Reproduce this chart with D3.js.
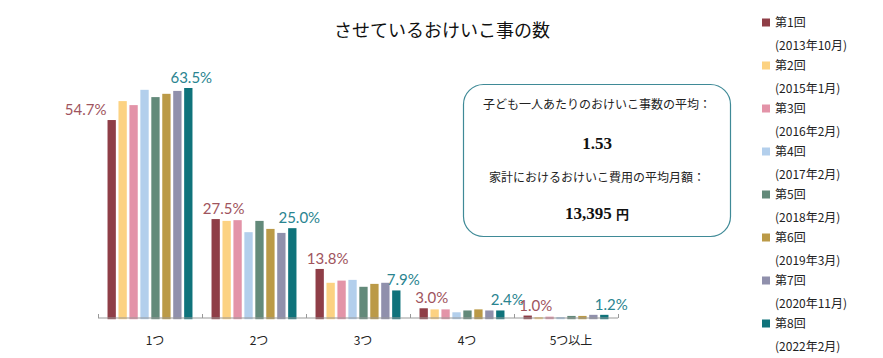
<!DOCTYPE html>
<html><head><meta charset="utf-8">
<script src="https://cdn.jsdelivr.net/npm/d3@7/dist/d3.min.js"></script>
<style>body{margin:0;background:#fff}svg{display:block}</style>
</head><body>
<svg id="c" width="883" height="358"></svg>
<script>
const categories = ["1つ","2つ","3つ","4つ","5つ以上"];
const seriesNames = ["第1回","第2回","第3回","第4回","第5回","第6回","第7回","第8回"];
const seriesDates = ["(2013年10月)","(2015年1月)","(2016年2月)","(2017年2月)","(2018年2月)","(2019年3月)","(2020年11月)","(2022年2月)"];
const colors = ["#8f3e47","#fcd282","#e393a8","#b3cfec","#638a7a","#bb9a47","#9090ac","#0f737b"];
const s1 = [54.7, 27.5, 13.8, 3.0, 1.0];
const s2 = [59.9, 27.0, 10.0, 2.7, 0.6];
const s3 = [58.8, 27.2, 10.6, 2.7, 0.7];
const s4 = [63.0, 23.9, 10.8, 1.9, 0.6];
const s5 = [61.0, 27.0, 8.9, 2.4, 0.9];
const s6 = [61.9, 24.8, 9.7, 2.7, 0.9];
const s7 = [62.7, 23.7, 10.0, 2.4, 1.2];
const s8 = [63.5, 25.0, 7.9, 2.4, 1.2];
const series = [s1,s2,s3,s4,s5,s6,s7,s8];
const title = "させているおけいこ事の数";
const boxLines = ["子ども一人あたりのおけいこ事数の平均：","1.53","家計におけるおけいこ費用の平均月額：","13,395"];
const boxUnit = "円";

const svg = d3.select("#c");
const jp = "'Noto Sans CJK JP', sans-serif";

const x0 = d3.scaleBand().domain(categories).range([98, 618]).padding(0);
const x1 = d3.scaleBand().domain(d3.range(8)).range([0, x0.bandwidth()]).paddingInner(0.24).paddingOuter(0.87);
const y = d3.scaleLinear().domain([0, 63.5]).range([319.2, 88]);

// title
svg.append("text").attr("x", 442).attr("y", 37).attr("text-anchor", "middle")
  .style("font-family", jp).style("font-size", "18px").style("fill", "#111").text(title);

// bars
categories.forEach((c, ci) => {
  const g = svg.append("g").attr("transform", `translate(${x0(c)},0)`);
  series.forEach((s, si) => {
    g.append("rect").attr("x", x1(si)).attr("width", x1.bandwidth())
      .attr("y", y(s[ci])).attr("height", y(0) - y(s[ci])).attr("fill", colors[si]);
  });
});

// axis
const axisY = 318;
svg.append("line").attr("x1", x0.range()[0]).attr("x2", x0.range()[1]).attr("y1", axisY).attr("y2", axisY)
  .attr("stroke", "#999").attr("stroke-width", 1);
const ticks = categories.map(c => x0(c)).concat([x0.range()[1]]);
svg.selectAll(".tk").data(ticks).enter().append("line")
  .attr("x1", d => d + 0.5).attr("x2", d => d + 0.5).attr("y1", axisY - 4).attr("y2", axisY)
  .attr("stroke", "#999");
svg.selectAll(".cl").data(categories).enter().append("text")
  .attr("x", d => x0(d) + x0.bandwidth() / 2 + 5).attr("y", 345).attr("text-anchor", "middle")
  .style("font-family", jp).style("font-size", "12px").style("fill", "#222").text(d => d);

// value labels (first and last series)
const lblFont = "Lato, 'Open Sans', sans-serif";
categories.forEach((c, ci) => {
  const bx = x0(c) + x1(0);
  const top = y(s1[ci]);
  const blocked = y(s2[ci]) < top - 5;
  svg.append("text")
    .attr("x", blocked ? bx - 1 : bx + x1.bandwidth() / 2 + 8)
    .attr("y", top - 5)
    .attr("text-anchor", blocked ? "end" : "middle")
    .style("font-family", lblFont).style("font-weight", 400).style("font-size", "15px")
    .style("fill", "#a0545d").text(s1[ci].toFixed(1) + "%");
  const lx = x0(c) + x1(7) + x1.bandwidth() / 2;
  svg.append("text")
    .attr("x", lx + (ci === 0 ? 3 : 7)).attr("y", y(s8[ci]) - 5)
    .attr("text-anchor", "middle")
    .style("font-family", lblFont).style("font-weight", 400).style("font-size", "15px")
    .style("fill", "#2a8490").text(s8[ci].toFixed(1) + "%");
});

// info box
svg.append("rect").attr("x", 463.5).attr("y", 84.5).attr("width", 267).attr("height", 152)
  .attr("rx", 20).attr("ry", 20).attr("fill", "#fff").attr("stroke", "#3f8a97").attr("stroke-width", 1.2);
const bcx = 597;
svg.append("text").attr("x", bcx).attr("y", 109).attr("text-anchor", "middle")
  .style("font-family", jp).style("font-size", "12px").style("fill", "#222").text(boxLines[0]);
svg.append("text").attr("x", bcx).attr("y", 149).attr("text-anchor", "middle")
  .style("font-family", "'Liberation Serif', serif").style("font-weight", "bold").style("font-size", "17px")
  .style("fill", "#111").text(boxLines[1]);
svg.append("text").attr("x", bcx).attr("y", 182).attr("text-anchor", "middle")
  .style("font-family", jp).style("font-size", "12px").style("fill", "#222").text(boxLines[2]);
const t4 = svg.append("text").attr("x", bcx).attr("y", 219).attr("text-anchor", "middle")
  .style("fill", "#111");
t4.append("tspan").style("font-family", "'Liberation Serif', serif").style("font-weight", "bold")
  .style("font-size", "17px").text(boxLines[3] + " ");
t4.append("tspan").style("font-family", jp).style("font-weight", "bold").style("font-size", "13px").text(boxUnit);

// legend
const leg = svg.append("g");
seriesNames.forEach((n, i) => {
  const ly = 22.5 + i * 43;
  leg.append("rect").attr("x", 762).attr("y", ly - 4).attr("width", 8).attr("height", 8).attr("fill", colors[i]);
  leg.append("text").attr("x", 775).attr("y", ly + 4.5)
    .style("font-family", jp).style("font-size", "12px").style("fill", "#222").text(n);
  leg.append("text").attr("x", 775).attr("y", ly + 27.5)
    .style("font-family", jp).style("font-size", "12px").style("fill", "#222").text(seriesDates[i]);
});
</script>
</body></html>
